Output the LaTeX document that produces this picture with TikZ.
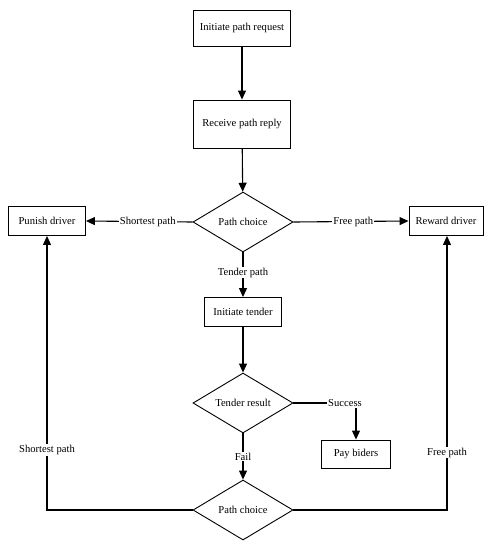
\documentclass[tikz,border=0pt]{standalone}
\usepackage{fontspec}
\setmainfont{Liberation Serif}
\usetikzlibrary{shapes.geometric,arrows.meta}
\begin{document}
\begin{tikzpicture}[x=1pt,y=-1pt,
  every node/.style={font=\fontsize{10.6}{12}\selectfont},
  box/.style={draw,line width=0.9pt,inner sep=0pt,align=center},
  dia/.style={draw,line width=0.9pt,diamond,inner sep=0pt,minimum width=100pt,minimum height=60pt,aspect=1.67},
  lab/.style={fill=white,inner sep=1pt},
  conn/.style={line width=1.1pt},
  arr/.style={conn,-{Triangle[length=9pt,width=8pt]}}]
\useasboundingbox (0,0) rectangle (495,550);
\node[box,minimum width=97pt,minimum height=36pt] (req) at (242,28) {Initiate path request};
\node[box,minimum width=97pt,minimum height=48pt] (rep) at (242,124) {Receive path reply};
\node[dia] (pc1) at (243,222) {Path choice};
\node[box,minimum width=77pt,minimum height=29pt] (pun) at (47,221) {Punish driver};
\node[box,minimum width=74pt,minimum height=29pt] (rew) at (446,221) {Reward driver};
\node[box,minimum width=77pt,minimum height=29pt] (ten) at (243,312) {Initiate tender};
\node[dia] (tr) at (243,403) {Tender result};
\node[box,minimum width=69pt,minimum height=28pt] (pay) at (356,454) {Pay biders};
\node[dia] (pc2) at (243,510) {Path choice};
\coordinate (bl) at (47,510);
\coordinate (br) at (447,510);
\coordinate (sc) at (356,403);

\draw[arr] (req) -- (rep);
\draw[arr] (rep) -- (pc1);
\draw[arr] (pc1.west) -- (pun.east) node[lab,pos=0.42] {Shortest path};
\draw[arr] (pc1.east) -- (rew.east -| rew.west) node[lab,pos=0.52] {Free path};
\draw[arr] (pc1.south) -- (ten.north) node[lab,pos=0.45] {Tender path};
\draw[arr] (ten) -- (tr);
\draw[conn] (tr.east) -- (sc);
\node[lab] (suc) at (345,403) {Success};
\draw[arr] (suc.south -| sc) -- (pay.north);
\draw[arr] (tr.south) -- (pc2.north) node[lab,pos=0.5] {Fail};
\draw[arr] (pc2.west) -- (bl) -- (pun.south) node[lab,pos=0.22] {Shortest path};
\draw[arr] (pc2.east) -- (br) -- (br |- rew.south) node[lab,pos=0.21] {Free path};
\end{tikzpicture}
\end{document}
